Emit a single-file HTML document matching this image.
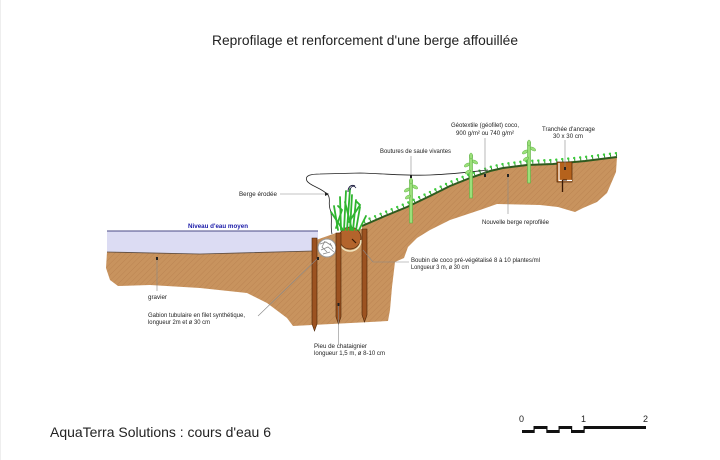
<!DOCTYPE html>
<html><head><meta charset="utf-8">
<style>
html,body{margin:0;padding:0;background:#fff;}
svg{display:block;}
text{font-family:"Liberation Sans",Arial,sans-serif;fill:#222;}
</style></head>
<body>
<svg width="720" height="460" viewBox="0 0 720 460" xmlns="http://www.w3.org/2000/svg">
<defs>
<pattern id="hatch" width="4" height="4" patternUnits="userSpaceOnUse" patternTransform="rotate(45)">
<rect width="4" height="4" fill="#c8935e"/>
<line x1="0" y1="0" x2="0" y2="4" stroke="#bb8452" stroke-width="1"/>
</pattern>
</defs>
<rect x="0" y="0" width="720" height="460" fill="#fff"/>
<line x1="0.5" y1="0" x2="0.5" y2="460" stroke="#eee" stroke-width="1"/>

<!-- title -->
<text x="212" y="45" font-size="13.5" textLength="306" lengthAdjust="spacingAndGlyphs">Reprofilage et renforcement d'une berge affouillée</text>

<!-- water -->
<path d="M107,231 L318,231 L318,251 L200,254 L107,252 Z" fill="#dcdcf3"/>
<line x1="107" y1="231" x2="318" y2="231" stroke="#4a4a86" stroke-width="1"/>

<!-- soil -->
<path d="M107,252 L200,254 L313,251 L316,240 L336,233 L362,229 L362,226 L385,216 L407,207 L430,196 L450,186 L470,178 L490,171 L503,168 L527,165 L553,164 L585,161 L617,157 L616,172 L607,193 L597,202 L583,208 L575,212 L568,210 L558,207 L540,205 L497,204 L480,210 L450,220 L430,230 L417,238 L408,247 L404,258 L395,262 L392,287 L390,310 L388,321 L293,326 L287,318 L267,303 L247,293 L200,288 L150,285 L118,286 L110,280 L106,268 Z" fill="url(#hatch)"/>
<path d="M107,252 L200,254 L313,251" fill="none" stroke="#5a4a40" stroke-width="0.8"/>

<!-- geotextile -->
<path d="M362,226 L385,216 L407,207 L430,196 L450,186 L470,178 L490,171 L503,168 L527,165 L553,164 L585,161 L617,157" fill="none" stroke="#2e5a1e" stroke-width="2"/>
<path d="M364,222 L385,213 L407,204 L430,193 L450,183 L470,175 L490,168 L503,165 L527,162 L553,161 L585,158 L617,154" fill="none" stroke="#2a8a2a" stroke-width="4" stroke-dasharray="1 5"/>
<path d="M364,221 L385,212 L407,203 L430,192 L450,182 L470,174 L490,167 L503,164 L527,161 L553,160 L585,157 L617,153" fill="none" stroke="#3ccc3c" stroke-width="2.4" stroke-linecap="round" stroke-dasharray="0 6"/>

<!-- eroded bank line -->
<path d="M332,234 C330,226 333,216 330,209 C328,203 331,199 328,195 C322,188 310,186 307,181 C304,175 312,174 320,174 L360,173 C390,174 410,176 430,175 C455,174 470,172 488,170" fill="none" stroke="#222" stroke-width="0.8"/>

<!-- gabion -->
<circle cx="327" cy="248" r="9" fill="#fff" stroke="#999" stroke-width="1"/>
<path d="M320,244 L326,242 L332,246 M321,250 L328,247 L334,252 M323,254 L330,252 M325,241 L322,247 L327,252 M330,243 L333,249" fill="none" stroke="#888" stroke-width="0.8"/>

<!-- coco roll -->
<circle cx="350" cy="238" r="11" fill="#b3642c" stroke="#5a3010" stroke-width="0.8"/>
<path d="M339,240 A11,11 0 0 0 361,240" fill="none" stroke="#f2e4bd" stroke-width="1.6"/>
<line x1="352" y1="239" x2="356" y2="243" stroke="#3a1a05" stroke-width="1.2"/>

<!-- grass -->
<g stroke="#2fb52f" stroke-width="1.8" fill="none" stroke-linecap="round">
<line x1="338" y1="230" x2="334" y2="206"/>
<line x1="341" y1="230" x2="340" y2="197"/>
<line x1="344" y1="230" x2="346" y2="191"/>
<line x1="347" y1="230" x2="350" y2="189"/>
<line x1="350" y1="230" x2="352" y2="195"/>
<line x1="353" y1="230" x2="356" y2="200"/>
<line x1="356" y1="230" x2="360" y2="207"/>
<line x1="359" y1="230" x2="366" y2="216"/>
<line x1="343" y1="230" x2="331" y2="212"/>
<line x1="352" y1="230" x2="345" y2="202"/>
<path d="M349,222 L360,205 L357,202"/>
<path d="M336,228 L342,210 L338,206"/>
</g>
<path d="M348,192 C348,187 351,184 355,186" fill="none" stroke="#224" stroke-width="1"/>
<path d="M350,190 C351,186 354,185 356,188" fill="none" stroke="#224" stroke-width="0.8"/>

<!-- piles -->
<g fill="#9c5220" stroke="#4a2508" stroke-width="0.6">
<path d="M312,238 L317,238 L317,324 L314.5,331 L312,324 Z"/>
<path d="M336,233 L341,233 L341,317 L338.5,324 L336,317 Z"/>
<path d="M362,229 L367,229 L367,315 L364.5,322 L362,315 Z"/>
</g>

<!-- willow cuttings -->
<g>
<rect x="409.5" y="180" width="3" height="43" fill="#9be07a" stroke="#5cb040" stroke-width="0.6"/>
<ellipse cx="407" cy="190" rx="3" ry="1.5" fill="#9be07a" stroke="#5cb040" stroke-width="0.5" transform="rotate(-30 407 190)"/>
<ellipse cx="415" cy="187" rx="3" ry="1.5" fill="#9be07a" stroke="#5cb040" stroke-width="0.5" transform="rotate(30 415 187)"/>
<ellipse cx="408" cy="197" rx="3" ry="1.5" fill="#9be07a" stroke="#5cb040" stroke-width="0.5" transform="rotate(-30 408 197)"/>
<ellipse cx="411" cy="181" rx="1.5" ry="3" fill="#9be07a" stroke="#5cb040" stroke-width="0.5"/>

<rect x="469.5" y="155" width="3" height="43" fill="#9be07a" stroke="#5cb040" stroke-width="0.6"/>
<ellipse cx="467" cy="165" rx="3" ry="1.5" fill="#9be07a" stroke="#5cb040" stroke-width="0.5" transform="rotate(-30 467 165)"/>
<ellipse cx="475" cy="162" rx="3" ry="1.5" fill="#9be07a" stroke="#5cb040" stroke-width="0.5" transform="rotate(30 475 162)"/>
<ellipse cx="468" cy="172" rx="3" ry="1.5" fill="#9be07a" stroke="#5cb040" stroke-width="0.5" transform="rotate(-30 468 172)"/>
<ellipse cx="471" cy="156" rx="1.5" ry="3" fill="#9be07a" stroke="#5cb040" stroke-width="0.5"/>

<rect x="527.5" y="142" width="3" height="41" fill="#9be07a" stroke="#5cb040" stroke-width="0.6"/>
<ellipse cx="525" cy="152" rx="3" ry="1.5" fill="#9be07a" stroke="#5cb040" stroke-width="0.5" transform="rotate(-30 525 152)"/>
<ellipse cx="533" cy="149" rx="3" ry="1.5" fill="#9be07a" stroke="#5cb040" stroke-width="0.5" transform="rotate(30 533 149)"/>
<ellipse cx="526" cy="159" rx="3" ry="1.5" fill="#9be07a" stroke="#5cb040" stroke-width="0.5" transform="rotate(-30 526 159)"/>
<ellipse cx="529" cy="143" rx="1.5" ry="3" fill="#9be07a" stroke="#5cb040" stroke-width="0.5"/>
</g>

<!-- anchor trench -->
<rect x="557" y="162" width="15" height="20" fill="#b5621c" stroke="#4a2508" stroke-width="0.7"/>
<path d="M559,163 L559,180.5 L572,180.5" fill="none" stroke="#fff" stroke-width="1.2"/>
<line x1="562.5" y1="180" x2="562.5" y2="192" stroke="#3a1a05" stroke-width="1.3"/>
<line x1="562.5" y1="180" x2="567" y2="180" stroke="#3a1a05" stroke-width="1"/>

<!-- leader lines -->
<g stroke="#888" stroke-width="0.6" fill="none">
<line x1="280" y1="194" x2="327" y2="194"/>
<line x1="157" y1="258" x2="157" y2="291"/>
<line x1="258" y1="316" x2="318" y2="258"/>
<line x1="338.5" y1="305" x2="338.5" y2="344"/>
<path d="M363,250 L373,262 L409,262"/>
<line x1="411" y1="156" x2="411" y2="176"/>
<line x1="485" y1="138" x2="485" y2="175"/>
<line x1="508" y1="175" x2="508" y2="214"/>
<line x1="565" y1="140" x2="565" y2="168"/>
</g>
<path d="M325,192 L329,194 L325,196 Z" fill="#222"/>
<g fill="#222">
<rect x="156" y="257" width="2" height="3"/>
<rect x="317" y="257" width="2" height="3"/>
<rect x="337.5" y="303" width="2" height="3"/>
<rect x="410" y="175" width="2" height="3"/>
<rect x="484" y="174" width="2" height="3"/>
<rect x="507" y="174" width="2" height="3"/>
<rect x="564" y="167" width="2" height="3"/>
</g>

<!-- labels -->
<g font-size="6">
<text x="239" y="196" textLength="38" lengthAdjust="spacingAndGlyphs">Berge érodée</text>
<text x="188" y="228" textLength="60" lengthAdjust="spacingAndGlyphs" font-weight="bold" style="fill:#1a1aa8">Niveau d'eau moyen</text>
<text x="380" y="153" textLength="71" lengthAdjust="spacingAndGlyphs">Boutures de saule vivantes</text>
<text x="451" y="127" textLength="68" lengthAdjust="spacingAndGlyphs">Géotextile (géofilet) coco,</text>
<text x="456" y="135" textLength="58" lengthAdjust="spacingAndGlyphs">900 g/m² ou 740 g/m²</text>
<text x="542" y="131" textLength="53" lengthAdjust="spacingAndGlyphs">Tranchée d'ancrage</text>
<text x="553" y="138" textLength="30" lengthAdjust="spacingAndGlyphs">30 x 30 cm</text>
<text x="482" y="224" textLength="67" lengthAdjust="spacingAndGlyphs">Nouvelle berge reprofilée</text>
<text x="411" y="262" textLength="129" lengthAdjust="spacingAndGlyphs">Boubin de coco pré-végétalisé 8 à 10 plantes/ml</text>
<text x="411" y="269" textLength="58" lengthAdjust="spacingAndGlyphs">Longueur 3 m, ø 30 cm</text>
<text x="148" y="299" textLength="19" lengthAdjust="spacingAndGlyphs">gravier</text>
<text x="148" y="317" textLength="97" lengthAdjust="spacingAndGlyphs">Gabion tubulaire en filet synthétique,</text>
<text x="148" y="324" textLength="62" lengthAdjust="spacingAndGlyphs">longueur 2m et ø 30 cm</text>
<text x="314" y="348" textLength="53" lengthAdjust="spacingAndGlyphs">Pieu de chataignier</text>
<text x="314" y="355" textLength="71" lengthAdjust="spacingAndGlyphs">longueur 1,5 m, ø 8-10 cm</text>
</g>

<!-- footer -->
<text x="50" y="437" font-size="14" textLength="221" lengthAdjust="spacingAndGlyphs">AquaTerra Solutions : cours d'eau 6</text>

<!-- scale bar -->
<g font-size="9">
<text x="519" y="422">0</text>
<text x="581" y="422">1</text>
<text x="643" y="422">2</text>
</g>
<g fill="#111">
<rect x="522" y="430" width="12.5" height="3"/>
<rect x="534" y="426" width="13" height="3"/>
<rect x="546.5" y="430" width="12.5" height="3"/>
<rect x="559" y="426" width="12.5" height="3"/>
<rect x="571" y="430" width="13" height="3"/>
<rect x="533.5" y="426" width="1.2" height="7"/>
<rect x="546.3" y="426" width="1.2" height="7"/>
<rect x="558.5" y="426" width="1.2" height="7"/>
<rect x="571" y="426" width="1.2" height="7"/>
<rect x="583.5" y="426" width="1.2" height="7"/>
<rect x="584" y="426" width="62" height="3"/>
</g>
</svg>
</body></html>
